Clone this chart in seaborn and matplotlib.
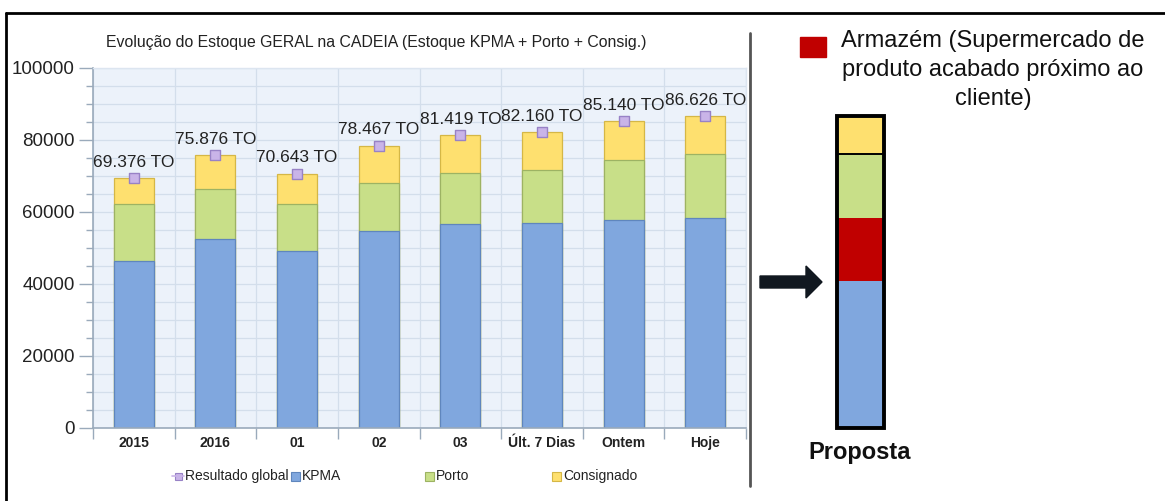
import matplotlib
matplotlib.use("Agg")
import matplotlib.pyplot as plt
from matplotlib import font_manager
from matplotlib.patches import Rectangle, Polygon
from matplotlib.lines import Line2D
from matplotlib.ticker import StrMethodFormatter
import numpy as np
import pandas as pd
import seaborn as sns

# ---- data -------------------------------------------------------------
periodos = ["2015", "2016", "01", "02", "03", "Últ. 7 Dias", "Ontem", "Hoje"]
totais = [69376, 75876, 70643, 78467, 81419, 82160, 85140, 86626]
kpma = [46400, 52500, 49200, 54700, 56700, 57000, 57800, 58300]
porto = [15900, 13900, 13000, 13400, 14100, 14700, 16600, 17800]

proposta_kpma = 40800
proposta_armazem = 17500
proposta_porto = 17800
proposta_consignado = 10500

titulo = "Evolução do Estoque GERAL na CADEIA (Estoque KPMA + Porto + Consig.)"
legenda = ["Resultado global", "KPMA", "Porto", "Consignado"]

# ---- style ------------------------------------------------------------
C_KPMA, E_KPMA = "#80A7DE", "#5F86BD"
C_PORTO, E_PORTO = "#C8DF88", "#9DB363"
C_CONS, E_CONS = "#FEE06F", "#D5B746"
C_MARK, E_MARK = "#C9B4E8", "#9882C6"
C_ARM = "#C00000"
GRID = "#D3DEEB"
AXC = "#9AAABB"

W, H = 1165, 501


def fx(p):
    return p / W


def fy(p):
    return 1 - p / H


sns.set_theme(style="white")
plt.rcParams["font.family"] = ["Liberation Sans", "DejaVu Sans"]
available = {f.name for f in font_manager.fontManager.ttflist}
if "Liberation Sans Narrow" in available:
    NARROW = ["Liberation Sans Narrow", "Liberation Sans"]
    narrow_scale = 1.2
else:
    NARROW = ["Liberation Sans", "DejaVu Sans"]
    narrow_scale = 1.0

fig = plt.figure(figsize=(W / 100, H / 100), dpi=100)
fig.patch.set_facecolor("white")

# ---- main stacked chart ----------------------------------------------
df = pd.DataFrame({"periodo": periodos, "kpma": kpma, "porto": porto, "total": totais})
df["porto_acum"] = df["kpma"] + df["porto"]

ax = fig.add_axes([fx(93), fy(428), (746 - 93) / W, (428 - 68) / H])
ax.set_facecolor("#ECF2FA")

common = dict(data=df, x="periodo", order=periodos, width=0.49, saturation=1,
              errorbar=None, linewidth=0.9, ax=ax)
sns.barplot(y="total", color=C_CONS, edgecolor=E_CONS, **common)
sns.barplot(y="porto_acum", color=C_PORTO, edgecolor=E_PORTO, **common)
sns.barplot(y="kpma", color=C_KPMA, edgecolor=E_KPMA, **common)
sns.stripplot(data=df, x="periodo", y="total", order=periodos, jitter=False,
              marker="s", size=7, color=C_MARK, edgecolor=E_MARK, linewidth=1,
              ax=ax, zorder=5)

for i, v in enumerate(totais):
    ax.annotate(f"{v:,}".replace(",", ".") + " TO", (i, v), xytext=(0, 6),
                textcoords="offset points", ha="center", va="bottom",
                fontsize=12.5, color="#222222")

ax.set_xlim(-0.5, len(periodos) - 0.5)
ax.set_ylim(0, 100000)
ax.set_xlabel("")
ax.set_ylabel("")

ax.set_xticks(np.arange(-0.5, len(periodos), 1))
ax.set_xticklabels([])
ax.set_xticks(range(len(periodos)), minor=True)
ax.set_xticklabels(periodos, minor=True, fontfamily=NARROW,
                   fontsize=10 * narrow_scale, fontweight="bold", color="#222222")
ax.tick_params(axis="x", which="major", bottom=True, length=8, width=1, color=AXC)
ax.tick_params(axis="x", which="minor", bottom=True, length=0, pad=6)

ax.set_yticks(range(0, 100001, 20000))
ax.set_yticks(range(0, 100001, 5000), minor=True)
ax.yaxis.set_major_formatter(StrMethodFormatter("{x:.0f}"))
ax.tick_params(axis="y", which="major", left=True, length=10, width=1, color=AXC,
               labelsize=13.5, labelcolor="#222222", pad=3)
ax.tick_params(axis="y", which="minor", left=True, length=5, width=1, color=AXC)

ax.grid(True, which="both", axis="y", color=GRID, lw=0.9)
ax.grid(True, which="major", axis="x", color=GRID, lw=0.9)
ax.set_axisbelow(True)
for s in ("left", "bottom"):
    ax.spines[s].set_color(AXC)
    ax.spines[s].set_linewidth(1.2)
for s in ("top", "right"):
    ax.spines[s].set_color("#DCE5F0")
    ax.spines[s].set_linewidth(1)

fig.text(fx(376), fy(42), titulo, ha="center", va="center", fontsize=11.4,
         color="#222222")

# legend row
ly = 476
leg_items = [
    (178, C_MARK, E_MARK, legenda[0], True),
    (295, C_KPMA, E_KPMA, legenda[1], False),
    (429, C_PORTO, E_PORTO, legenda[2], False),
    (556, C_CONS, E_CONS, legenda[3], False),
]
for x0, fc, ec, label, is_line in leg_items:
    if is_line:
        fig.add_artist(Line2D([fx(x0 - 6), fx(x0 + 6)], [fy(ly), fy(ly)],
                              color=C_MARK, lw=1.2))
        fig.add_artist(Rectangle((fx(x0 - 3.5), fy(ly + 3.5)), 7 / W, 7 / H,
                                 facecolor=fc, edgecolor=ec, lw=0.8,
                                 transform=fig.transFigure))
    else:
        fig.add_artist(Rectangle((fx(x0 - 4.5), fy(ly + 4.5)), 9 / W, 9 / H,
                                 facecolor=fc, edgecolor=ec, lw=0.8,
                                 transform=fig.transFigure))
    fig.text(fx(x0 + 7), fy(ly), label, ha="left", va="center",
             fontfamily=NARROW, fontsize=10 * narrow_scale, color="#222222")

# ---- proposal bar -----------------------------------------------------
dp = pd.DataFrame({"cenario": ["Proposta"], "kpma": [proposta_kpma]})
dp["armazem_acum"] = dp["kpma"] + proposta_armazem
dp["porto_acum"] = dp["armazem_acum"] + proposta_porto
dp["total"] = dp["porto_acum"] + proposta_consignado

ax2 = fig.add_axes([fx(827), fy(428), 67 / W, (428 - 68) / H])
pc = dict(data=dp, x="cenario", width=47 / 67, saturation=1, errorbar=None, ax=ax2)
sns.barplot(y="total", color=C_CONS, linewidth=0, **pc)
sns.barplot(y="porto_acum", color=C_PORTO, edgecolor="black", linewidth=1.4, **pc)
sns.barplot(y="armazem_acum", color=C_ARM, linewidth=0, **pc)
sns.barplot(y="kpma", color=C_KPMA, linewidth=0, **pc)
sns.barplot(y="total", fill=False, color="black", linewidth=2.8, **pc)
for p in ax2.patches:
    p.set_clip_on(False)
ax2.set_xlim(-0.5, 0.5)
ax2.set_ylim(0, 100000)
ax2.axis("off")

fig.add_artist(Rectangle((fx(800), fy(57)), 26 / W, 20 / H, color=C_ARM,
                         transform=fig.transFigure))
fig.text(fx(993), fy(70), "Armazém (Supermercado de\nproduto acabado próximo ao\ncliente)",
         ha="center", va="center", fontsize=17, linespacing=1.42, color="#111111")
fig.text(fx(860), fy(453), "Proposta", ha="center", va="center", fontsize=17,
         fontweight="bold", color="#111111")

# arrow pointing at the proposal bar
seta = [(760, 276), (806, 276), (806, 266), (822, 282), (806, 298), (806, 288), (760, 288)]
fig.add_artist(Polygon([(fx(a), fy(b)) for a, b in seta], closed=True,
                       color="#111820", transform=fig.transFigure))

# separator and frame
fig.add_artist(Line2D([fx(750), fx(750)], [fy(33), fy(486)], color="#555555", lw=2))
fig.add_artist(Line2D([fx(6), fx(6)], [fy(13), 0], color="black", lw=2))
fig.add_artist(Line2D([fx(6), 1], [fy(13), fy(13)], color="black", lw=2))

fig.savefig("out.png", dpi=100)
